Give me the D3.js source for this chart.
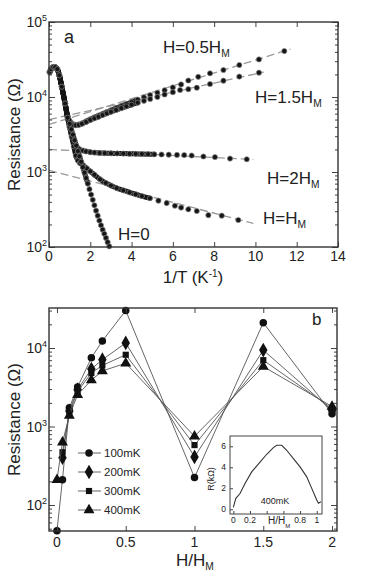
<!DOCTYPE html>
<html>
<head>
<meta charset="utf-8">
<script src="https://cdn.jsdelivr.net/npm/d3@7"></script>
<style>
body { margin: 0; background: #fff; }
svg { display: block; font-family: "Liberation Sans", Arial, Helvetica, sans-serif; }
</style>
</head>
<body>
<div id="chart"></div>
<script>
// ---------- panel a : resistance vs 1/T ----------
// shared high temperature part, [1/T, R]
var highT = [[0.03,21500],[0.1,23500],[0.2,25000],[0.3,25000],[0.4,23500],[0.5,19500],[0.62,13700],[0.78,8200]];

var curveHalf = [[0.9,5600],[1.0,4800],[1.1,4450],[1.2,4300],[1.3,4250],[1.45,4300],[1.6,4450],[1.8,4750],[2.0,5050],[2.2,5350],[2.4,5650],[2.6,5950],[2.8,6300],[3.0,6650],[3.25,7100],[3.5,7550],[3.75,8050],[4.0,8550],[4.3,9200],[4.6,9900],[4.9,10600],[5.25,11400],[5.6,12300],[6.0,13400],[6.4,14700],[6.75,16600],[7.23,18600],[7.8,20700],[8.45,22900],[9.22,26700],[10.17,31700],[11.4,41000]];
var curveOneHalf = [[0.9,5500],[1.0,4700],[1.1,4400],[1.2,4250],[1.3,4200],[1.45,4250],[1.6,4400],[1.8,4650],[2.0,4950],[2.2,5200],[2.4,5450],[2.6,5750],[2.8,6050],[3.0,6350],[3.25,6700],[3.5,7100],[3.75,7500],[4.0,7900],[4.3,8400],[4.6,8900],[4.9,9400],[5.25,10000],[5.6,10800],[6.0,11600],[6.35,12400],[6.75,12700],[7.16,13300],[7.8,14900],[8.45,16500],[9.22,18700],[10.17,21100]];
var curveTwo = [[0.9,5400],[1.0,4000],[1.1,3050],[1.2,2550],[1.3,2250],[1.4,2080],[1.5,1990],[1.65,1930],[1.8,1880],[2.0,1840],[2.2,1815],[2.45,1795],[2.7,1785],[3.0,1775],[3.3,1768],[3.6,1760],[3.9,1752],[4.2,1745],[4.5,1738],[4.8,1730],[5.1,1720],[5.45,1712],[5.8,1703],[6.2,1690],[6.55,1680],[6.91,1660],[7.48,1610],[8.04,1580],[8.77,1510],[9.58,1480]];
var curveOne = [[0.9,5300],[1.0,3950],[1.1,2950],[1.2,2200],[1.3,1650],[1.4,1420],[1.5,1320],[1.65,1230],[1.83,1120],[2.0,1020],[2.2,920],[2.47,800],[2.75,715],[3.0,660],[3.28,610],[3.6,570],[3.9,535],[4.2,505],[4.5,478],[4.89,447],[5.3,415],[5.7,385],[6.1,355],[6.4,335],[6.75,318],[7.16,302],[7.72,266],[8.37,262],[9.17,229]];
var curveZero = [[0.9,5300],[1.0,4400],[1.08,3700],[1.16,3150],[1.24,2650],[1.32,2250],[1.4,1900],[1.48,1620],[1.56,1370],[1.64,1160],[1.72,980],[1.8,830],[1.88,700],[1.96,590],[2.04,500],[2.12,425],[2.2,360],[2.28,305],[2.36,262],[2.44,225],[2.52,195],[2.6,170],[2.68,150],[2.76,132],[2.84,116],[2.92,102]];

// dashed fits: [start, end] as [1/T, R]
var fitHalf = [[0,4300],[11.7,43500]];
var fitOneHalf = [[0,5000],[10.4,21500]];
var fitTwo = [[0,2000],[9.9,1470]];
var fitOne = [[0,1050],[9.9,207]];

var xTicksA = [0,2,4,6,8,10,12,14];
var decadesA = [2,3,4,5];

// ---------- panel b : resistance vs H/HM ----------
var fields = [0, 0.04, 0.09, 0.15, 0.25, 0.33, 0.5, 1, 1.5, 2];
var r100 = [47, 210, 1730, 3180, 7500, 12300, 30000, 224, 21000, 1450];
var r200 = [null, 400, 1580, 2950, 5400, 7100, 11600, 410, 9400, 1600];
var r300 = [null, 470, 1500, 2800, 4800, 6000, 8200, 580, 7000, 1700];
var r400 = [210, 630, 1380, 2530, 3900, 5100, 6400, 750, 5800, 1800];
var tempNames = ["100mK", "200mK", "300mK", "400mK"];
var xTicksB = [0, 0.5, 1, 1.5, 2];
var xLabelsB = ["0", "0.5", "1", "1.5", "2"];
var decadesB = [2,3,4];

// inset: 400mK in kOhm
var insetH = [0, 0.03, 0.08, 0.14, 0.22, 0.32, 0.40, 0.48, 0.52, 0.58, 0.64, 0.72, 0.80, 0.88, 0.94, 1.0, 1.02, 1.05];
var insetR = [0.19, 1.04, 1.5, 2.46, 3.56, 4.5, 5.24, 5.87, 6.1, 6.1, 5.62, 4.83, 4.04, 3.09, 1.99, 0.88, 0.57, 0.72];
var insetXTicks = [0, 0.2, 0.4, 0.6, 0.8, 1];
var insetXLabels = ["0", "0.2", "", "", "0.8", "1"];
var insetYTicks = [0, 2, 4, 6];

var ink = "#222";

var svg = d3.select("#chart").append("svg")
    .attr("width", 374)
    .attr("height", 577);

function minorTicks(decades) {
    var out = [];
    for (var i = 0; i < decades.length + 1; i++) {
        var e = decades[0] - 1 + i;
        for (var m = 2; m <= 9; m++) out.push(m * Math.pow(10, e));
    }
    return out;
}

// frame + inward ticks on all sides
function drawFrame(box, x, y, xTicks, decades) {
    var g = svg.append("g");
    var majors = decades.map(function(e) { return Math.pow(10, e); });
    var minors = minorTicks(decades).filter(function(v) {
        return v >= y.domain()[0] && v <= y.domain()[1];
    });
    var sides = [
        [d3.axisBottom(x).tickValues(xTicks).tickSize(-5), "translate(0," + box.bottom + ")"],
        [d3.axisTop(x).tickValues(xTicks).tickSize(-5), "translate(0," + box.top + ")"],
        [d3.axisLeft(y).tickValues(majors).tickSize(-6), "translate(" + box.left + ",0)"],
        [d3.axisLeft(y).tickValues(minors).tickSize(-3), "translate(" + box.left + ",0)"],
        [d3.axisRight(y).tickValues(majors).tickSize(-6), "translate(" + box.right + ",0)"],
        [d3.axisRight(y).tickValues(minors).tickSize(-3), "translate(" + box.right + ",0)"]
    ];
    sides.forEach(function(s) {
        var ax = g.append("g").attr("transform", s[1])
            .call(s[0].tickFormat("").tickSizeOuter(0));
        ax.select(".domain").remove();
        ax.selectAll("line").attr("stroke", "#444").attr("stroke-width", 1);
    });
    g.append("rect")
        .attr("x", box.left).attr("y", box.top)
        .attr("width", box.right - box.left).attr("height", box.bottom - box.top)
        .attr("fill", "none").attr("stroke", "#333").attr("stroke-width", 1.4);

    // power-of-ten labels
    decades.forEach(function(e) {
        g.append("text")
            .attr("x", box.left - 2).attr("y", y(Math.pow(10, e)) + 5)
            .attr("text-anchor", "end").attr("font-size", 14).attr("fill", ink)
            .text("10")
            .append("tspan").attr("dy", -6).attr("font-size", 9).text(e);
    });
}

function subLabel(x, y, main, sub, size, anchor) {
    var t = svg.append("text").attr("x", x).attr("y", y)
        .attr("font-size", size).attr("fill", ink)
        .attr("text-anchor", anchor || "start");
    t.append("tspan").text(main);
    if (sub) t.append("tspan").attr("dy", 4).attr("font-size", size * 0.6).text(sub);
    return t;
}

// ===== panel a =====
var boxA = {left: 49, right: 338, top: 22, bottom: 247};
var xa = d3.scaleLinear().domain([0, 14]).range([boxA.left, boxA.right]);
var ya = d3.scaleLog().domain([100, 100000]).range([boxA.bottom, boxA.top]);

var plotA = svg.append("g");

// fit lines
[fitHalf, fitOneHalf, fitTwo, fitOne].forEach(function(f) {
    plotA.append("path")
        .attr("d", d3.line().x(function(d) { return xa(d[0]); }).y(function(d) { return ya(d[1]); })(f))
        .attr("fill", "none").attr("stroke", "#9a9a9a")
        .attr("stroke-width", 1.3).attr("stroke-dasharray", "8,4");
});

// data curves; bandEnd is where the dense points merge into a thick band
var curvesA = [
    {pts: curveHalf, bandEnd: 4.4},
    {pts: curveOneHalf, bandEnd: 4.4},
    {pts: curveTwo, bandEnd: 5.3},
    {pts: curveOne, bandEnd: 4.9},
    {pts: curveZero, bandEnd: 1.9}
];
curvesA.forEach(function(c) {
    var all = highT.concat(c.pts);
    var band = all.filter(function(d) { return d[0] <= c.bandEnd; });
    plotA.append("path")
        .attr("d", d3.line().curve(d3.curveMonotoneX)
            .x(function(d) { return xa(d[0]); }).y(function(d) { return ya(d[1]); })(band))
        .attr("fill", "none").attr("stroke", "#141414")
        .attr("stroke-width", 5).attr("stroke-linecap", "round").attr("stroke-linejoin", "round");
    plotA.selectAll(null)
        .data(all)
        .enter()
        .append("circle")
        .attr("cx", function(d) { return xa(d[0]); })
        .attr("cy", function(d) { return ya(d[1]); })
        .attr("r", 2.6)
        .attr("fill", "#151515")
        .attr("stroke", "#8a8a8a")
        .attr("stroke-width", 0.7);
});

drawFrame(boxA, xa, ya, xTicksA, decadesA);

xTicksA.forEach(function(v) {
    svg.append("text").attr("x", xa(v)).attr("y", boxA.bottom + 14)
        .attr("text-anchor", "middle").attr("font-size", 14).attr("fill", ink).text(v);
});

// axis titles
svg.append("text")
    .attr("transform", "translate(20," + ((boxA.top + boxA.bottom) / 2) + ") rotate(-90)")
    .attr("text-anchor", "middle").attr("font-size", 17).attr("fill", ink)
    .text("Resistance (\u03A9)");
var xt = svg.append("text").attr("x", 193).attr("y", 283)
    .attr("text-anchor", "middle").attr("font-size", 17).attr("fill", ink);
xt.append("tspan").text("1/T (K");
xt.append("tspan").attr("dy", -6).attr("font-size", 10).text("-1");
xt.append("tspan").attr("dy", 6).text(")");

svg.append("text").attr("x", 64).attr("y", 43).attr("font-size", 18).attr("fill", ink).text("a");

subLabel(163, 53, "H=0.5H", "M", 17);
subLabel(255, 103, "H=1.5H", "M", 17);
subLabel(267, 184, "H=2H", "M", 17);
subLabel(263, 224, "H=H", "M", 17);
subLabel(118, 240, "H=0", null, 17);

// ===== panel b =====
var boxB = {left: 49, right: 337, top: 308, bottom: 531};
var xb = d3.scaleLinear().domain([-0.058, 2.036]).range([boxB.left, boxB.right]);
var yb = d3.scaleLog().domain([Math.pow(10, 1.669), Math.pow(10, 4.5096)]).range([boxB.bottom, boxB.top]);

var seriesB = [r100, r200, r300, r400];
var shapes = [d3.symbolCircle, d3.symbolDiamond, d3.symbolSquare, d3.symbolTriangle];
var sizes = [44, 62, 38, 52];

var plotB = svg.append("g");
seriesB.forEach(function(vals, i) {
    var pts = fields.map(function(h, j) { return [h, vals[j]]; })
        .filter(function(d) { return d[1] != null; });
    plotB.append("path")
        .attr("d", d3.line().x(function(d) { return xb(d[0]); }).y(function(d) { return yb(d[1]); })(pts))
        .attr("fill", "none").attr("stroke", "#555").attr("stroke-width", 0.9);
    plotB.selectAll(null)
        .data(pts)
        .enter()
        .append("path")
        .attr("d", d3.symbol().type(shapes[i]).size(sizes[i]))
        .attr("transform", function(d) { return "translate(" + xb(d[0]) + "," + yb(d[1]) + ")"; })
        .attr("fill", "#111");
});

drawFrame(boxB, xb, yb, xTicksB, decadesB);

xTicksB.forEach(function(v, i) {
    svg.append("text").attr("x", xb(v)).attr("y", boxB.bottom + 16)
        .attr("text-anchor", "middle").attr("font-size", 14).attr("fill", ink).text(xLabelsB[i]);
});

svg.append("text")
    .attr("transform", "translate(20," + ((boxB.top + boxB.bottom) / 2) + ") rotate(-90)")
    .attr("text-anchor", "middle").attr("font-size", 17).attr("fill", ink)
    .text("Resistance (\u03A9)");
subLabel(176, 566, "H/H", "M", 17);
svg.append("text").attr("x", 312).attr("y", 325).attr("font-size", 17).attr("fill", ink).text("b");

// legend
tempNames.forEach(function(name, i) {
    var ly = 453 + i * 19;
    svg.append("line").attr("x1", 78).attr("x2", 101).attr("y1", ly).attr("y2", ly)
        .attr("stroke", "#555").attr("stroke-width", 0.9);
    svg.append("path").attr("d", d3.symbol().type(shapes[i]).size(sizes[i]))
        .attr("transform", "translate(89," + ly + ")").attr("fill", "#111");
    svg.append("text").attr("x", 104).attr("y", ly + 4).attr("font-size", 11.5)
        .attr("fill", ink).text(name);
});

// inset
var boxI = {left: 230, right: 322, top: 436, bottom: 514};
var xi = d3.scaleLinear().domain([-0.04, 1.063]).range([boxI.left, boxI.right]);
var yi = d3.scaleLinear().domain([-0.45, 6.98]).range([boxI.bottom, boxI.top]);

svg.append("rect").attr("x", boxI.left).attr("y", boxI.top)
    .attr("width", boxI.right - boxI.left).attr("height", boxI.bottom - boxI.top)
    .attr("fill", "#fff").attr("stroke", "#444").attr("stroke-width", 1);
var gi = svg.append("g");
gi.append("g").attr("transform", "translate(0," + boxI.bottom + ")")
    .call(d3.axisBottom(xi).tickValues(insetXTicks).tickSize(-3).tickSizeOuter(0).tickFormat(""));
gi.append("g").attr("transform", "translate(" + boxI.left + ",0)")
    .call(d3.axisLeft(yi).tickValues(insetYTicks).tickSize(-3).tickSizeOuter(0).tickFormat(""));
gi.selectAll(".domain").remove();
gi.selectAll("line").attr("stroke", "#444");

svg.append("path")
    .attr("d", d3.line().x(function(d, i) { return xi(insetH[i]); }).y(function(d) { return yi(d); })(insetR))
    .attr("fill", "none").attr("stroke", "#333").attr("stroke-width", 1.1);

insetXTicks.forEach(function(v, i) {
    if (!insetXLabels[i]) return;
    svg.append("text").attr("x", xi(v)).attr("y", boxI.bottom + 9)
        .attr("text-anchor", "middle").attr("font-size", 8.5).attr("fill", ink).text(insetXLabels[i]);
});
insetYTicks.forEach(function(v) {
    svg.append("text").attr("x", boxI.left - 4).attr("y", yi(v) + 3)
        .attr("text-anchor", "end").attr("font-size", 8.5).attr("fill", ink).text(v);
});
svg.append("text")
    .attr("transform", "translate(214,479) rotate(-90)")
    .attr("text-anchor", "middle").attr("font-size", 9).attr("fill", ink)
    .text("R(k\u03A9)");
svg.append("text").attr("x", 275).attr("y", 504).attr("text-anchor", "middle")
    .attr("font-size", 9).attr("fill", ink).text("400mK");
subLabel(268, 524, "H/H", "M", 10);
</script>
</body>
</html>
